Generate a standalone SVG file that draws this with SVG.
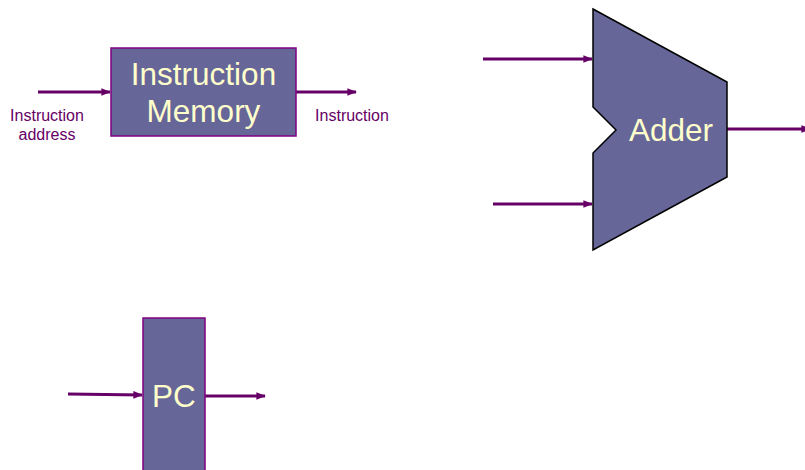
<svg xmlns="http://www.w3.org/2000/svg" width="805" height="470" viewBox="0 0 805 470">
  <defs>
    <marker id="arrow" viewBox="0 0 10 10" refX="9" refY="5" markerWidth="3" markerHeight="3" orient="auto" markerUnits="strokeWidth">
      <path d="M0,1 L10,5 L0,9 z" fill="#660066"/>
    </marker>
    <style>
      .block { fill: #666699; stroke: #800080; stroke-width: 1.5; }
      .alu { fill: #666699; stroke: #000000; stroke-width: 1.5; }
      .wire { stroke: #660066; stroke-width: 3.2; fill: none; marker-end: url(#arrow); }
      .big { font-family: "Liberation Sans", Arial, sans-serif; font-size: 31.5px; fill: #ffffcc; text-anchor: middle; }
      .lbl { font-family: "Liberation Sans", Arial, sans-serif; font-size: 16px; fill: #660066; text-anchor: middle; }
    </style>
  </defs>
  <rect width="805" height="470" fill="#ffffff"/>

  <g id="connectors">
    <line class="wire" x1="38" y1="92" x2="110" y2="92"/>
    <line class="wire" x1="296" y1="92" x2="356" y2="92"/>
    <line class="wire" x1="483" y1="59" x2="592" y2="59"/>
    <line class="wire" x1="493" y1="204" x2="592" y2="204"/>
    <line class="wire" x1="727" y1="129" x2="810" y2="129"/>
    <line class="wire" x1="68" y1="394" x2="142" y2="395"/>
    <line class="wire" x1="205" y1="396" x2="265" y2="396"/>
  </g>

  <g id="instruction-memory">
    <rect class="block" x="111" y="48" width="185" height="88"/>
    <text class="big" x="203.5" y="85">Instruction</text>
    <text class="big" x="203.5" y="122">Memory</text>
  </g>

  <g id="label-instruction-address">
    <text class="lbl" x="47" y="121">Instruction</text>
    <text class="lbl" x="47" y="140">address</text>
  </g>

  <g id="label-instruction">
    <text class="lbl" x="352" y="121">Instruction</text>
  </g>

  <g id="adder">
    <polygon class="alu" points="593,9 727,82 727,177 593,250 593,153 616,130 593,107"/>
    <text class="big" x="671" y="141">Adder</text>
  </g>

  <g id="pc">
    <rect class="block" x="143" y="318" width="62" height="160"/>
    <text class="big" x="174" y="407">PC</text>
  </g>
</svg>
